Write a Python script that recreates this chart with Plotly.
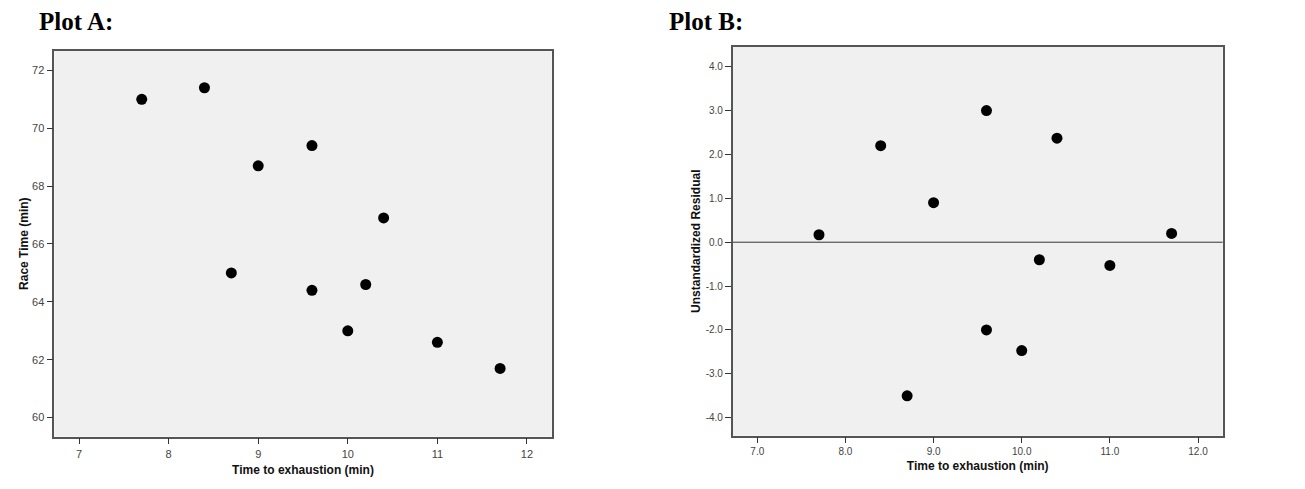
import plotly.graph_objects as go

# data
exhaustion = [7.7, 8.4, 8.7, 9.0, 9.6, 9.6, 10.0, 10.2, 10.4, 11.0, 11.7]
race_time = [71.0, 71.4, 65.0, 68.7, 69.4, 64.4, 63.0, 64.6, 66.9, 62.6, 61.7]
residual = [0.17, 2.2, -3.5, 0.9, 3.0, -2.0, -2.47, -0.4, 2.37, -0.53, 0.2]

a_xticks = [7, 8, 9, 10, 11, 12]
a_yticks = [60, 62, 64, 66, 68, 70, 72]
b_xticks = [7.0, 8.0, 9.0, 10.0, 11.0, 12.0]
b_yticks = [-4.0, -3.0, -2.0, -1.0, 0.0, 1.0, 2.0, 3.0, 4.0]

W, H = 1305, 489
OFF = 8  # page body margin pushes the figure down/right


def px_x(v):
    return (v - OFF) / W


def px_y(v):
    return 1 - (v - OFF) / H


fig = go.Figure()

fig.add_trace(go.Scatter(x=exhaustion, y=race_time, mode="markers",
                         marker=dict(color="black", size=11),
                         xaxis="x", yaxis="y", showlegend=False))
fig.add_trace(go.Scatter(x=exhaustion, y=residual, mode="markers",
                         marker=dict(color="black", size=11),
                         xaxis="x2", yaxis="y2", showlegend=False))

# zero reference line on the residual plot
fig.add_shape(type="line", xref="x2 domain", yref="y2", x0=0, x1=1, y0=0, y1=0,
              line=dict(color="#333333", width=1))

tick_font = dict(family="Arial, Liberation Sans", size=11, color="#444444")
title_font = dict(family="Arial, Liberation Sans", size=12, color="#111111")

common = dict(showgrid=False, zeroline=False, showline=True, mirror=True,
              linecolor="#555555", linewidth=1.5, ticks="outside", ticklen=6,
              tickcolor="#333333", tickwidth=1.2, tickfont=tick_font)

fig.update_layout(
    width=W, height=H,
    margin=dict(l=0, r=0, t=0, b=0),
    paper_bgcolor="white",
    plot_bgcolor="#F0F0F0",
    xaxis=dict(domain=[px_x(54.3), px_x(551.7)], range=[6.724, 12.276],
               tickvals=a_xticks, ticktext=[str(v) for v in a_xticks],
               title=dict(text="<b>Time to exhaustion (min)</b>", font=title_font, standoff=7),
               anchor="y", **common),
    yaxis=dict(domain=[px_y(436.7), px_y(50.7)], range=[59.34, 72.68],
               tickvals=a_yticks, ticktext=[str(v) for v in a_yticks],
               title=dict(text="<b>Race Time (min)</b>", font=title_font, standoff=1),
               anchor="x", **common),
    xaxis2=dict(domain=[px_x(732.7), px_x(1222.7)], range=[6.721, 12.28],
                tickvals=b_xticks, ticktext=["%.1f" % v for v in b_xticks],
                title=dict(text="<b>Time to exhaustion (min)</b>", font=title_font, standoff=5),
                anchor="y2", **{**common, "tickfont": dict(tick_font, size=10)}),
    yaxis2=dict(domain=[px_y(435.7), px_y(46.7)], range=[-4.41, 4.456],
                tickvals=b_yticks, ticktext=["%.1f" % v for v in b_yticks],
                title=dict(text="<b>Unstandardized Residual</b>", font=title_font, standoff=3),
                anchor="x2", **{**common, "tickfont": dict(tick_font, size=10)}),
    annotations=[
        dict(text="<b>Plot A:</b>", x=px_x(37), y=px_y(22), xref="paper", yref="paper",
             xanchor="left", yanchor="middle", showarrow=False,
             font=dict(family="Liberation Serif, Times New Roman", size=25, color="black")),
        dict(text="<b>Plot B:</b>", x=px_x(667), y=px_y(22), xref="paper", yref="paper",
             xanchor="left", yanchor="middle", showarrow=False,
             font=dict(family="Liberation Serif, Times New Roman", size=25, color="black")),
    ],
)

fig.write_html("out.html")
